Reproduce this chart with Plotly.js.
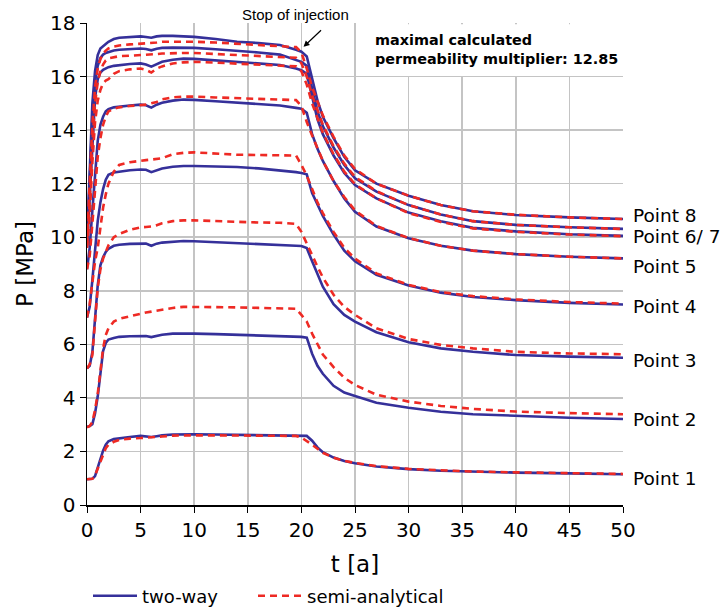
<!DOCTYPE html>
<html>
<head>
<meta charset="utf-8">
<script src="https://cdn.plot.ly/plotly-3.0.1.min.js"></script>
<style>html,body{margin:0;padding:0;background:#fff;}#chart{width:721px;height:612px;}</style>
</head>
<body>
<div id="chart"></div>
<script>
// time axis [a]
const T = [0,0.25,0.5,0.75,1,1.25,1.5,1.75,2,2.5,3,4,5,5.5,6,6.5,7,8,9,10,12,14,16,18,19.5,20,20.5,21,21.5,22,23,24,25,27,30,33,36,40,45,50];

// two-way coupled results [MPa]
const twoWay1 = [0.96,0.96,0.98,1.08,1.4,1.75,2.03,2.25,2.38,2.46,2.49,2.54,2.58,2.57,2.54,2.57,2.6,2.63,2.64,2.64,2.63,2.62,2.61,2.6,2.59,2.59,2.58,2.4,2.15,1.97,1.77,1.64,1.56,1.44,1.34,1.28,1.24,1.21,1.18,1.15];
const twoWay2 = [2.92,2.95,3.02,3.42,4.05,4.92,5.75,6.05,6.18,6.24,6.28,6.3,6.32,6.31,6.27,6.32,6.36,6.4,6.41,6.4,6.38,6.36,6.34,6.31,6.29,6.28,6.25,5.65,5.2,4.9,4.45,4.2,4.07,3.82,3.63,3.48,3.39,3.32,3.26,3.21];
const twoWay3 = [5.1,5.2,5.7,7.03,8.2,8.95,9.25,9.45,9.57,9.68,9.72,9.75,9.77,9.76,9.68,9.76,9.8,9.84,9.86,9.85,9.82,9.78,9.75,9.72,9.68,9.67,9.6,9.1,8.6,8.15,7.5,7.1,6.85,6.45,6.08,5.85,5.72,5.6,5.54,5.5];
const twoWay4 = [7.0,7.4,8.4,9.6,10.6,11.3,11.8,12.15,12.33,12.42,12.45,12.5,12.53,12.52,12.43,12.5,12.57,12.63,12.66,12.66,12.64,12.62,12.57,12.5,12.43,12.4,12.35,11.65,11.2,10.8,10.1,9.5,9.1,8.6,8.2,7.93,7.77,7.65,7.55,7.49];
const twoWay5 = [8.8,9.6,11.0,12.5,13.6,14.2,14.5,14.7,14.78,14.85,14.88,14.92,14.95,14.93,14.84,14.95,15.02,15.1,15.14,15.13,15.08,15.03,14.98,14.92,14.83,14.8,14.65,13.85,13.3,12.85,12.1,11.45,10.95,10.4,9.96,9.68,9.5,9.37,9.27,9.21];
const twoWay6 = [9.6,11.5,13.8,15.2,15.9,16.15,16.25,16.3,16.35,16.4,16.43,16.47,16.49,16.45,16.37,16.47,16.55,16.63,16.67,16.66,16.6,16.55,16.5,16.43,16.3,16.24,16.1,15.2,14.4,13.85,13.05,12.4,11.95,11.45,10.92,10.6,10.35,10.22,10.11,10.05];
const twoWay7 = [9.7,12.0,14.5,15.8,16.4,16.7,16.82,16.88,16.92,16.97,17.0,17.03,17.05,17.03,16.98,17.04,17.07,17.08,17.08,17.07,17.02,16.97,16.9,16.82,16.62,16.55,16.4,15.5,14.7,14.15,13.35,12.7,12.2,11.7,11.2,10.85,10.6,10.46,10.37,10.31];
const twoWay8 = [9.8,12.5,15.0,16.2,16.8,17.05,17.15,17.22,17.3,17.4,17.45,17.48,17.5,17.48,17.45,17.5,17.52,17.52,17.5,17.48,17.4,17.3,17.25,17.18,17.0,16.93,16.75,15.9,15.1,14.5,13.7,13.0,12.5,12.0,11.55,11.2,10.97,10.83,10.74,10.68];

// semi-analytical results [MPa]
const semi1 = [0.96,0.96,0.98,1.1,1.35,1.62,1.9,2.12,2.25,2.36,2.43,2.48,2.5,2.51,2.52,2.53,2.56,2.59,2.6,2.6,2.6,2.59,2.59,2.58,2.58,2.52,2.4,2.25,2.1,1.95,1.77,1.65,1.57,1.45,1.35,1.29,1.25,1.22,1.19,1.16];
const semi2 = [2.9,2.95,3.1,3.55,4.15,5.05,5.85,6.35,6.6,6.85,6.95,7.05,7.16,7.19,7.22,7.26,7.3,7.36,7.4,7.4,7.39,7.38,7.36,7.35,7.33,7.1,6.85,6.4,6.0,5.62,5.15,4.75,4.48,4.12,3.86,3.7,3.59,3.49,3.43,3.39];
const semi3 = [5.1,5.25,5.6,6.78,8.1,8.8,9.2,9.45,9.7,10.0,10.12,10.28,10.37,10.38,10.4,10.45,10.52,10.6,10.63,10.63,10.6,10.57,10.55,10.54,10.5,10.2,9.75,9.3,8.9,8.5,7.85,7.4,7.1,6.6,6.2,5.98,5.85,5.72,5.66,5.63];
const semi4 = [7.0,7.5,8.3,9.1,9.6,10.4,11.1,11.6,12.0,12.45,12.7,12.8,12.87,12.88,12.9,12.92,12.95,13.1,13.15,13.17,13.12,13.08,13.07,13.07,13.05,12.7,12.3,11.8,11.3,10.9,10.2,9.6,9.2,8.65,8.22,7.95,7.8,7.68,7.58,7.52];
const semi5 = [8.8,9.3,10.5,11.9,13.0,13.7,14.2,14.5,14.7,14.8,14.85,14.9,14.94,14.95,15.0,15.05,15.15,15.22,15.25,15.25,15.22,15.19,15.16,15.15,15.12,14.9,14.3,13.8,13.3,12.85,12.1,11.5,11.0,10.42,9.97,9.68,9.5,9.37,9.27,9.21];
const semi6 = [9.6,10.8,12.8,14.3,15.1,15.5,15.75,15.85,15.9,16.1,16.2,16.27,16.3,16.25,16.15,16.3,16.38,16.49,16.53,16.55,16.52,16.48,16.44,16.41,16.38,16.2,15.7,15.0,14.45,13.9,13.1,12.45,11.98,11.45,10.9,10.57,10.33,10.2,10.1,10.04];
const semi7 = [9.7,11.3,13.5,15.0,15.8,16.2,16.45,16.6,16.68,16.73,16.76,16.78,16.8,16.8,16.82,16.84,16.86,16.88,16.88,16.88,16.84,16.8,16.76,16.73,16.7,16.5,16.0,15.3,14.75,14.2,13.4,12.75,12.25,11.72,11.2,10.85,10.6,10.46,10.37,10.31];
const semi8 = [9.8,11.8,14.2,15.6,16.3,16.65,16.85,16.97,17.05,17.12,17.16,17.2,17.22,17.23,17.25,17.27,17.3,17.3,17.3,17.3,17.27,17.22,17.17,17.13,17.1,16.9,16.3,15.6,15.05,14.55,13.75,13.05,12.55,12.0,11.55,11.2,10.97,10.84,10.74,10.68];

// right-hand point labels and their vertical positions [MPa]
const pointLabels = ['Point 8','Point 6/ 7','Point 5','Point 4','Point 3','Point 2','Point 1'];
const pointLabelY = [10.83,10.04,8.92,7.4,5.41,3.21,1.0];

const seriesNames = ['two-way','semi-analytical'];
const xTicks = [0,5,10,15,20,25,30,35,40,45,50];
const yTicks = [0,2,4,6,8,10,12,14,16,18];

const FONT = 'DejaVu Sans, Verdana, sans-serif';
const FONT_A = 'Liberation Sans, Arial, Helvetica, sans-serif';
const BLUE = '#35309a';
const RED = '#ee2a24';

const twoWay = [twoWay1,twoWay2,twoWay3,twoWay4,twoWay5,twoWay6,twoWay7,twoWay8];
const semi = [semi1,semi2,semi3,semi4,semi5,semi6,semi7,semi8];

const traces = [];
twoWay.forEach((y,i) => traces.push({
  x: T, y: y, type: 'scatter', mode: 'lines', name: seriesNames[0],
  showlegend: i === 0, legendgroup: 'tw', legend: 'legend',
  line: {color: BLUE, width: 2.6}
}));
semi.forEach((y,i) => traces.push({
  x: T, y: y, type: 'scatter', mode: 'lines', name: seriesNames[1],
  showlegend: i === 0, legendgroup: 'sa', legend: 'legend2',
  line: {color: RED, width: 2.6, dash: '7px,5px'}
}));

const annotations = pointLabels.map((t,i) => ({
  xref: 'paper', yref: 'y', x: 1.015, y: pointLabelY[i], xanchor: 'left', yanchor: 'middle',
  text: t, showarrow: false, font: {family: FONT, size: 18.5, color: '#000'}
}));
annotations.push({
  xref: 'paper', yref: 'y', x: (373-87)/536, y: 17.0, xanchor: 'left', yanchor: 'middle', align: 'left',
  text: '<b>maximal calculated<br>permeability multiplier: 12.85</b>', showarrow: false,
  font: {family: FONT, size: 14.4, color: '#000'}
});
annotations.push({
  xref: 'paper', yref: 'paper', x: (295-87)/536, y: 1 + (23-14)/482, xanchor: 'center', yanchor: 'middle',
  text: 'Stop of injection', showarrow: false, font: {family: FONT_A, size: 15, color: '#000'}
});
annotations.push({
  xref: 'x', yref: 'y', x: 20.2, y: 17.11, text: '', showarrow: true,
  ax: 19, ay: -18, arrowhead: 2, arrowsize: 1, arrowwidth: 1.2, arrowcolor: '#000'
});

const legendBase = {
  orientation: 'h', xref: 'container', yref: 'container',
  y: 1 - 596/612, xanchor: 'left', yanchor: 'middle',
  font: {family: FONT, size: 18}, itemwidth: 44,
  bgcolor: 'rgba(0,0,0,0)'
};

const layout = {
  width: 721, height: 612,
  margin: {l: 87, r: 98, t: 23, b: 107},
  paper_bgcolor: '#fff', plot_bgcolor: '#fff',
  font: {family: FONT, color: '#000'},
  xaxis: {
    range: [0, 50], tickvals: xTicks, ticks: 'outside', ticklen: 6, tickcolor: '#000',
    showline: true, linecolor: '#000', linewidth: 1.5, mirror: false,
    showgrid: true, gridcolor: '#c4c4c4', gridwidth: 1.5, zeroline: false,
    tickfont: {family: FONT, size: 20},
    title: {text: 't [a]', font: {family: FONT, size: 23}, standoff: 15}
  },
  yaxis: {
    range: [0, 18], tickvals: yTicks, ticks: 'outside', ticklen: 6, tickcolor: '#000',
    showline: true, linecolor: '#000', linewidth: 1.5,
    showgrid: true, gridcolor: '#c4c4c4', gridwidth: 1.5, zeroline: false,
    tickfont: {family: FONT, size: 20},
    title: {text: 'P [MPa]', font: {family: FONT, size: 23}, standoff: 10}
  },
  shapes: [{
    type: 'rect', xref: 'x', yref: 'y', x0: 25.9, x1: 49.93, y0: 16.02, y1: 17.95,
    fillcolor: '#fff', line: {width: 0}, layer: 'between'
  }],
  legend: Object.assign({}, legendBase, {x: 88/721}),
  legend2: Object.assign({}, legendBase, {x: 253/721}),
  annotations: annotations,
  showlegend: true
};

Plotly.newPlot('chart', traces, layout, {displayModeBar: false, staticPlot: true});
</script>
</body>
</html>
